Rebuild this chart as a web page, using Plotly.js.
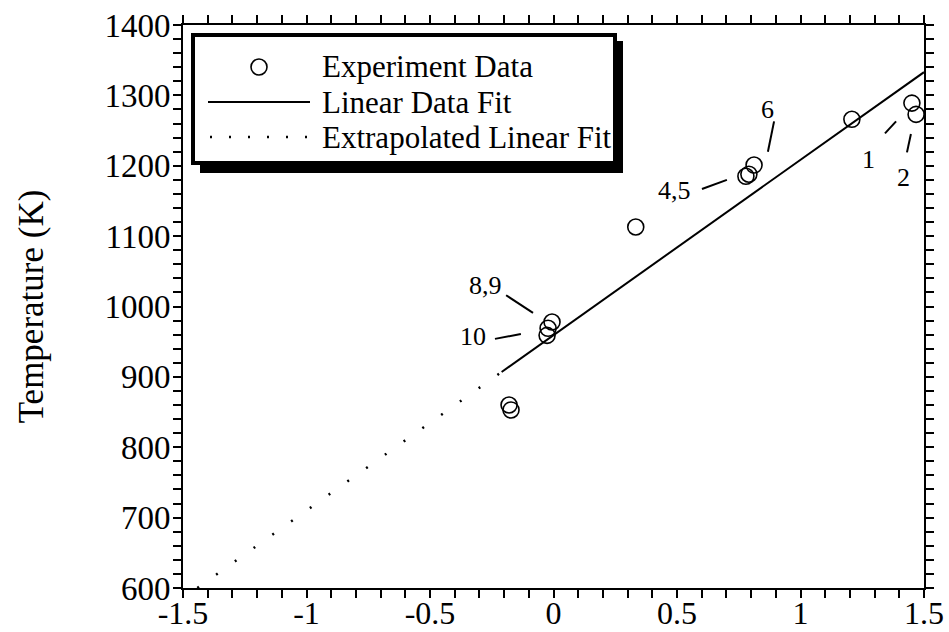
<!DOCTYPE html>
<html>
<head>
<meta charset="utf-8">
<script src="https://cdn.plot.ly/plotly-3.0.1.min.js"></script>
<style>
html,body{margin:0;padding:0;background:#fff;}
#chart{width:949px;height:632px;}
</style>
</head>
<body>
<div id="chart"></div>
<script>
// Experimental data points (x, temperature K)
const expX = [1.451, 1.468, 1.208, 0.779, 0.791, 0.812, 0.333, -0.006, -0.022, -0.026, -0.180, -0.172];
const expY = [1289, 1273, 1266, 1185, 1188, 1201, 1113, 978, 969, 959, 860, 853];

// Linear fit (solid) and extrapolation (dotted)
const fitX = [-0.21, 1.5];
const fitY = [907, 1333];
const extX = [-1.442, -0.21];
const extY = [600, 907];

// Point labels and leader lines
const labelText = ["1", "2", "4,5", "6", "8,9", "10"];
const labelX = [1.277, 1.415, 0.488, 0.868, -0.277, -0.326];
const labelY = [1209, 1184, 1165, 1280, 1030, 957];
const leadX0 = [1.342, 1.431, 0.601, 0.868, -0.192, -0.237];
const leadY0 = [1246, 1219, 1167, 1220, 1016, 954];
const leadX1 = [1.387, 1.447, 0.702, 0.893, -0.083, -0.132];
const leadY1 = [1263, 1245, 1180, 1263, 991, 961];

// Legend entries
const legendNames = ["Experiment Data", "Linear Data Fit", "Extrapolated Linear Fit"];

// Axis ticks
const xRange = [-1.5, 1.5];
const yRange = [600, 1400];
const xTickVals = [-1.5, -1, -0.5, 0, 0.5, 1, 1.5];
const xTickText = ["-1.5", "-1", "-0.5", "0", "0.5", "1", "1.5"];
const yTickVals = [600, 700, 800, 900, 1000, 1100, 1200, 1300, 1400];
const yTickText = ["600", "700", "800", "900", "1000", "1100", "1200", "1300", "1400"];
const xMinorPerMajor = 5;   // minor ticks every 0.1
const yMinorPerMajor = 5;   // minor ticks every 20 K

// Build tick arrays with unlabeled minor ticks between the labeled major ones
function withMinor(vals, texts, n) {
  const tv = [], tt = [];
  for (let i = 0; i < vals.length; i++) {
    tv.push(vals[i]); tt.push(texts[i]);
    if (i < vals.length - 1) {
      const step = (vals[i + 1] - vals[i]) / n;
      for (let k = 1; k < n; k++) { tv.push(vals[i] + k * step); tt.push(""); }
    }
  }
  return {tv, tt};
}
const xt = withMinor(xTickVals, xTickText, xMinorPerMajor);
const yt = withMinor(yTickVals, yTickText, yMinorPerMajor);

const FONT = "Liberation Serif, Times New Roman, serif";

const traces = [
  {
    x: expX, y: expY, mode: "markers", type: "scatter", name: legendNames[0],
    marker: {symbol: "circle-open", size: 16, color: "black", line: {width: 1.6, color: "black"}}
  },
  {
    x: fitX, y: fitY, mode: "lines", type: "scatter", name: legendNames[1],
    line: {color: "black", width: 2}
  },
  {
    x: extX, y: extY, mode: "lines", type: "scatter", name: legendNames[2],
    line: {color: "black", width: 2.5, dash: "2px,21px"}
  }
];

// pixel -> paper helpers for the hand-drawn legend box
const PL = 183, PR = 924, PT = 25, PB = 588;
const px = v => (v - PL) / (PR - PL);
const py = v => (PB - v) / (PB - PT);

const shapes = [
  // legend shadow
  {type: "rect", xref: "paper", yref: "paper", x0: px(200), x1: px(623), y0: py(173), y1: py(41),
   fillcolor: "black", line: {width: 0}, layer: "above"},
  // legend box
  {type: "rect", xref: "paper", yref: "paper", x0: px(193), x1: px(615), y0: py(163), y1: py(35),
   fillcolor: "white", line: {width: 4, color: "black"}, layer: "above"},
  // legend samples
  {type: "circle", xref: "paper", yref: "paper", xsizemode: "pixel", ysizemode: "pixel",
   xanchor: px(259), yanchor: py(67), x0: -8, x1: 8, y0: -8, y1: 8,
   line: {width: 1.6, color: "black"}, layer: "above"},
  {type: "line", xref: "paper", yref: "paper", x0: px(208), x1: px(310), y0: py(102), y1: py(102),
   line: {width: 2, color: "black"}, layer: "above"},
  {type: "line", xref: "paper", yref: "paper", x0: px(210), x1: px(312), y0: py(137), y1: py(137),
   line: {width: 2.5, color: "black", dash: "2px,17px"}, layer: "above"}
];
for (let i = 0; i < labelText.length; i++) {
  shapes.push({type: "line", xref: "x", yref: "y", x0: leadX0[i], y0: leadY0[i], x1: leadX1[i], y1: leadY1[i],
    line: {color: "black", width: 2}});
}

const annotations = labelText.map((t, i) => ({
  x: labelX[i], y: labelY[i], xref: "x", yref: "y", text: t, showarrow: false,
  font: {family: FONT, size: 26, color: "black"}
}));
const legendRowsY = [67, 102, 137];
legendNames.forEach((n, i) => {
  annotations.push({
    x: px(320), y: py(legendRowsY[i]), xref: "paper", yref: "paper", text: n, showarrow: false,
    xanchor: "left", yanchor: "middle", font: {family: FONT, size: 31, color: "black"}
  });
});

const axisCommon = {
  showline: true, linecolor: "black", linewidth: 2, mirror: "allticks",
  ticks: "outside", ticklen: 8, tickwidth: 2, tickcolor: "black",
  showgrid: false, zeroline: false
};

const layout = {
  width: 949, height: 632,
  margin: {l: PL, r: 949 - PR, t: PT, b: 632 - PB},
  paper_bgcolor: "white", plot_bgcolor: "white",
  font: {family: FONT, color: "black"},
  showlegend: false,
  xaxis: Object.assign({}, axisCommon, {
    range: xRange, tickmode: "array", tickvals: xt.tv, ticktext: xt.tt,
    tickfont: {family: FONT, size: 32, color: "black"}, ticklabelstandoff: -12
  }),
  yaxis: Object.assign({}, axisCommon, {
    range: yRange, tickmode: "array", tickvals: yt.tv, ticktext: yt.tt,
    tickfont: {family: FONT, size: 33, color: "black"}, ticklabelstandoff: -4,
    title: {text: "Temperature (K)", font: {family: FONT, size: 35, color: "black"}, standoff: 50}
  }),
  shapes: shapes,
  annotations: annotations
};

Plotly.newPlot("chart", traces, layout, {staticPlot: true, displayModeBar: false});
</script>
</body>
</html>
